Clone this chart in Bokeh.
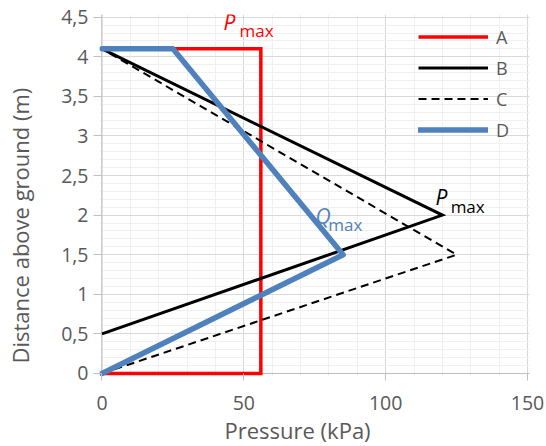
from bokeh.plotting import figure
from bokeh.models import (Range1d, SingleIntervalTicker, FixedTicker, LinearAxis, Legend,
                          LegendItem, Label, Span, Title)
from bokeh.embed import file_html
from bokeh.resources import INLINE

# ---- data ----
series_names = ["A", "B", "C", "D"]
pressure_A = [0, 56, 56, 0]
height_A = [0, 0, 4.1, 4.1]
pressure_B = [0, 120, 0]
height_B = [0.5, 2.0, 4.1]
pressure_C = [0, 125, 0]
height_C = [0, 1.5, 4.1]
pressure_D = [0, 85, 25, 0]
height_D = [0, 1.5, 4.1, 4.1]

y_ticks = [0, 0.5, 1, 1.5, 2, 2.5, 3, 3.5, 4, 4.5]
y_tick_labels = ["0", "0,5", "1", "1,5", "2", "2,5", "3", "3,5", "4", "4,5"]
x_title = "Pressure (kPa)"
y_title = "Distance above ground (m)"

FONT = "Open Sans"
GRAY = "#595959"

p = figure(width=546, height=446, output_backend="svg", toolbar_location=None,
           x_range=Range1d(-0.881, 150.705), y_range=Range1d(-0.0379, 4.534),
           min_border_left=99, min_border_right=17, min_border_top=14, min_border_bottom=70)
p.outline_line_color = None
p.background_fill_color = "white"
p.border_fill_color = "white"

# axes
p.xaxis.ticker = SingleIntervalTicker(interval=50, num_minor_ticks=5)
p.yaxis.ticker = SingleIntervalTicker(interval=0.5, num_minor_ticks=5)
p.yaxis.major_label_overrides = dict(zip(y_ticks, y_tick_labels))
for ax in (p.xaxis[0], p.yaxis[0]):
    ax.axis_line_color = None
    ax.major_tick_line_color = "#bfbfbf"
    ax.minor_tick_line_color = None
    ax.major_label_text_font = FONT
    ax.major_label_text_font_size = "19.5px"
    ax.major_label_text_color = GRAY
p.xaxis.major_tick_in = 3
p.xaxis.major_tick_out = 4
p.xaxis.major_label_standoff = 15
p.yaxis.major_tick_in = 2
p.yaxis.major_tick_out = 6
p.yaxis.major_label_standoff = 5

# blank spacer between the y tick labels and the y title (white, draws nothing visible)
spacer = LinearAxis(ticker=FixedTicker(ticks=[2], minor_ticks=[]), axis_line_color=None,
                    major_tick_line_color="white", major_tick_line_width=1,
                    minor_tick_line_color=None,
                    major_tick_in=0, major_tick_out=24, major_label_standoff=0,
                    major_label_text_font_size="0px", major_label_overrides={2: ""})
p.add_layout(spacer, "left")

# axis titles (placed like the original, slightly off-centre)
p.add_layout(Title(text=x_title, align="left", offset=125, standoff=0,
                   text_font=FONT, text_font_size="22px", text_font_style="normal",
                   text_color=GRAY), "below")
p.add_layout(Title(text=y_title, align="left", offset=13, standoff=0,
                   text_font=FONT, text_font_size="22px", text_font_style="normal",
                   text_color=GRAY), "left")

# grid
for g in (p.xgrid[0], p.ygrid[0]):
    g.grid_line_color = "#d9d9d9"
    g.minor_grid_line_color = "#f0f0f0"

p.add_layout(Span(location=0, dimension="height", line_color="#bfbfbf", line_width=1, level="underlay"))
p.add_layout(Span(location=0, dimension="width", line_color="#bfbfbf", line_width=1, level="underlay"))

# annotations (under the lines)
ann = [
    ("P", 42.83, 4.433, "21px", "italic", "#ff0000"),
    ("max", 48.5, 4.332, "17px", "normal", "#ff0000"),
    ("P", 117.6, 2.223, "21px", "italic", "#000000"),
    ("max", 122.9, 2.109, "17px", "normal", "#000000"),
    ("Q", 75.3, 1.995, "21px", "italic", "#4f81bd"),
    ("max", 79.8, 1.888, "17px", "normal", "#4f81bd"),
]
for t, x, y, fs, st, c in ann:
    p.add_layout(Label(x=x, y=y, text=t, text_font=FONT, text_font_size=fs,
                       text_font_style=st, text_color=c, text_baseline="alphabetic",
                       text_align="left", level="underlay"))

rA = p.line(pressure_A, height_A, line_color="#ff0000", line_width=3.5, line_join="miter")
rB = p.line(pressure_B, height_B, line_color="#000000", line_width=3, line_join="miter")
rC = p.line(pressure_C, height_C, line_color="#000000", line_width=2, line_dash="8 5")
rD = p.line(pressure_D, height_D, line_color="#4f81bd", line_width=5.5, line_join="round", line_cap="round")

legend = Legend(items=[LegendItem(label=n, renderers=[r]) for n, r in zip(series_names, [rA, rB, rC, rD])],
                location=(319, 234), orientation="vertical",
                glyph_width=70, glyph_height=25, label_height=25, spacing=6,
                label_standoff=8, padding=0, margin=0,
                background_fill_alpha=0, border_line_alpha=0,
                label_text_font=FONT, label_text_font_size="18px", label_text_color=GRAY)
p.add_layout(legend)

open("out.html", "w").write(file_html(p, INLINE))
